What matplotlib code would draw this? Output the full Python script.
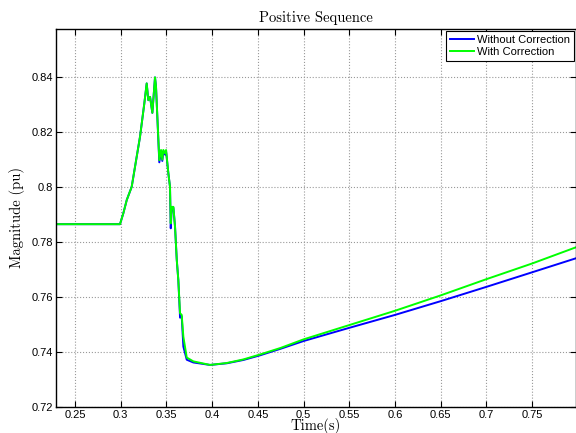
import matplotlib
matplotlib.use("Agg")
import matplotlib.pyplot as plt

# Time (s) and magnitude (pu)
t_without = [0.229, 0.2992, 0.3028, 0.3066, 0.3120, 0.3211, 0.3258, 0.3284, 0.3302, 0.3321,
             0.3346, 0.3375, 0.3386, 0.3422, 0.3441, 0.3455, 0.3466, 0.3485, 0.3496, 0.3521,
             0.3539, 0.3547, 0.3558, 0.3576, 0.3594, 0.3613, 0.3630, 0.3649, 0.3667, 0.3685,
             0.3722, 0.3794, 0.3977, 0.4160, 0.4341, 0.4524, 0.4750, 0.5000, 0.5500, 0.6000,
             0.6500, 0.7000, 0.7500, 0.7980]
y_without = [0.7865, 0.7865, 0.7904, 0.7953, 0.8001, 0.8183, 0.8304, 0.8377, 0.8316, 0.8328,
             0.8270, 0.8399, 0.8365, 0.8090, 0.8130, 0.8095, 0.8130, 0.8118, 0.8130, 0.8050,
             0.8001, 0.7850, 0.7925, 0.7925, 0.7856, 0.7735, 0.7662, 0.7525, 0.7530, 0.7420,
             0.7372, 0.7362, 0.7353, 0.7359, 0.7371, 0.7388, 0.7412, 0.7440, 0.7488, 0.7535,
             0.7585, 0.7637, 0.7690, 0.7741]

t_with = [0.229, 0.2992, 0.3028, 0.3066, 0.3120, 0.3211, 0.3258, 0.3284, 0.3302, 0.3321,
          0.3346, 0.3375, 0.3386, 0.3422, 0.3441, 0.3455, 0.3466, 0.3485, 0.3496, 0.3521,
          0.3539, 0.3547, 0.3558, 0.3576, 0.3594, 0.3613, 0.3630, 0.3649, 0.3667, 0.3685,
          0.3722, 0.3794, 0.3977, 0.4160, 0.4341, 0.4524, 0.4750, 0.5000, 0.5500, 0.6000,
          0.6500, 0.7000, 0.7500, 0.7980]
y_with = [0.7865, 0.7865, 0.7904, 0.7953, 0.8001, 0.8183, 0.8304, 0.8377, 0.8316, 0.8328,
          0.8270, 0.8399, 0.8365, 0.8098, 0.8135, 0.8100, 0.8135, 0.8123, 0.8135, 0.8050,
          0.8001, 0.7868, 0.7928, 0.7928, 0.7856, 0.7735, 0.7662, 0.7541, 0.7535, 0.7456,
          0.7380, 0.7366, 0.7353, 0.7360, 0.7373, 0.7391, 0.7415, 0.7446, 0.7498, 0.7550,
          0.7606, 0.7665, 0.7722, 0.7781]

x_ticks = [0.25, 0.3, 0.35, 0.4, 0.45, 0.5, 0.55, 0.6, 0.65, 0.7, 0.75]
x_ticklabels = ["0.25", "0.3", "0.35", "0.4", "0.45", "0.5", "0.55", "0.6", "0.65", "0.7", "0.75"]
y_ticks = [0.72, 0.74, 0.76, 0.78, 0.8, 0.82, 0.84]
y_ticklabels = ["0.72", "0.74", "0.76", "0.78", "0.8", "0.82", "0.84"]

fig = plt.figure(figsize=(5.76, 4.33), dpi=100)
ax = fig.add_axes([56 / 576, (433 - 407) / 433, 520 / 576, 378 / 433])

ax.plot(t_without, y_without, color=(0, 0, 1), lw=1.4, label="Without Correction")
ax.plot(t_with, y_with, color=(0, 1, 0), lw=1.4, label="With Correction")

ax.set_xlim(0.2292, 0.798)
ax.set_ylim(0.72, 0.8575)
ax.set_xticks(x_ticks)
ax.set_xticklabels(x_ticklabels)
ax.set_yticks(y_ticks)
ax.set_yticklabels(y_ticklabels)

for lab in ax.get_xticklabels() + ax.get_yticklabels():
    lab.set_fontfamily("Liberation Sans")
    lab.set_fontsize(8)

ax.tick_params(direction="in", length=4, width=0.8, top=True, right=True, pad=2)
ax.grid(True, linestyle=":", color="#999999", linewidth=0.8)
for s in ax.spines.values():
    s.set_linewidth(1.0)
    s.set_color("black")

ax.set_title("Positive Sequence", fontfamily="cmr10", fontsize=10.5, pad=5)
ax.set_xlabel("Time(s)", fontfamily="cmr10", fontsize=10.5, labelpad=-1)
ax.set_ylabel("Magnitude (pu)", fontfamily="cmr10", fontsize=10.5, labelpad=5)

leg = ax.legend(loc="upper right", prop={"family": "Liberation Sans", "size": 8},
                fancybox=False, edgecolor="black", framealpha=1, handlelength=2.2,
                handletextpad=0.3, borderpad=0.35, labelspacing=0.25, borderaxespad=0.15)
leg.get_frame().set_linewidth(0.8)

fig.savefig("out.png", dpi=100)
